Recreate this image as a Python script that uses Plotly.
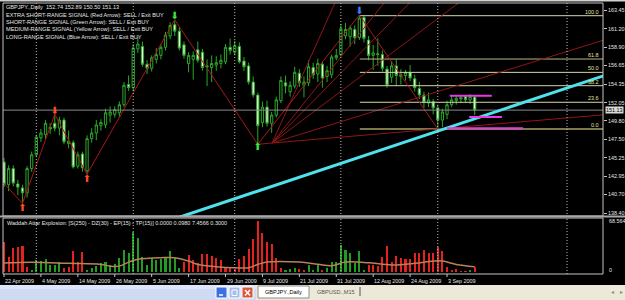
import plotly.graph_objects as go

W, H = 625, 300


def pxx(p):
    return p / W


def pxy(p):
    return 1 - p / H


# ---------------- data ----------------
date_labels = ["22 Apr 2009", "4 May 2009", "14 May 2009", "26 May 2009", "5 Jun 2009",
               "17 Jun 2009", "29 Jun 2009", "9 Jul 2009", "21 Jul 2009", "31 Jul 2009",
               "12 Aug 2009", "24 Aug 2009", "3 Sep 2009"]
date_idx = [0, 8, 16, 24, 32, 40, 48, 56, 64, 72, 80, 88, 96]
separator_idx = [7, 28, 50, 73, 94, 122]

opens = [144.7, 141.9, 143.9, 142.0, 141.5, 140.9, 143.9, 145.6, 147.7, 148.1,
         149.0, 149.5, 148.9, 149.9, 147.0, 147.1, 144.2, 145.7, 143.6, 147.6,
         148.3, 149.2, 149.3, 150.5, 150.6, 150.8, 151.8, 154.3, 153.9, 158.7,
         159.0, 156.8, 156.3, 157.4, 157.9, 158.9, 160.3, 161.7, 160.9, 159.2,
         156.9, 157.4, 158.6, 158.3, 156.6, 156.4, 156.7, 156.9, 157.1, 158.9,
         158.3, 159.0, 157.2, 156.6, 154.6, 153.0, 149.6, 151.5, 149.5, 150.5,
         152.3, 154.5, 153.4, 154.1, 155.7, 154.2, 154.5, 156.4, 155.6, 156.8,
         155.3, 155.5, 157.6, 158.0, 160.3, 160.2, 161.1, 160.1, 162.6, 159.8,
         157.9, 158.1, 158.0, 156.2, 155.2, 156.6, 155.3, 155.4, 155.8, 155.0,
         153.8, 153.0, 152.0, 152.2, 151.4, 149.9, 150.6, 151.8, 152.3, 152.5,
         152.8, 152.4, 152.74]
highs = [145.2, 144.3, 144.3, 142.5, 141.9, 144.2, 146.0, 148.1, 148.8, 149.9,
         149.5, 150.6, 150.3, 150.2, 148.6, 147.4, 146.0, 146.0, 148.0, 148.9,
         149.9, 150.0, 151.3, 151.6, 151.6, 152.2, 154.6, 155.4, 159.3, 160.2,
         159.6, 157.3, 157.9, 158.8, 159.3, 160.8, 162.0, 162.3, 161.4, 159.6,
         158.3, 158.4, 159.6, 158.7, 157.4, 157.9, 157.8, 158.0, 159.3, 160.0,
         159.7, 159.5, 157.7, 157.0, 155.3, 153.3, 152.2, 152.3, 150.9, 152.8,
         155.3, 155.4, 154.7, 156.5, 156.2, 155.3, 157.3, 157.0, 157.5, 157.1,
         156.6, 158.0, 158.7, 161.8, 161.9, 161.6, 161.6, 162.9, 162.8, 160.3,
         159.2, 160.0, 158.5, 156.6, 157.2, 157.4, 156.2, 156.1, 156.7, 155.5,
         154.6, 153.4, 153.3, 152.5, 151.8, 151.3, 152.3, 153.0, 152.9, 153.0,
         153.0, 153.1, 152.89]
lows = [141.6, 141.1, 141.7, 140.6, 139.6, 140.3, 143.5, 145.3, 147.2, 147.6,
        148.2, 148.5, 148.0, 146.9, 146.4, 143.9, 143.9, 143.5, 143.2, 147.1,
        147.4, 148.6, 148.9, 149.6, 150.2, 150.3, 151.5, 153.5, 153.5, 158.2,
        156.5, 155.6, 155.9, 156.9, 157.4, 158.5, 159.9, 160.3, 158.5, 157.5,
        155.8, 154.9, 157.0, 156.0, 154.1, 154.6, 156.0, 156.3, 156.8, 158.0,
        157.9, 156.9, 156.0, 154.3, 152.7, 146.9, 149.0, 149.1, 148.3, 150.2,
        152.0, 153.2, 152.8, 153.8, 154.0, 152.7, 154.1, 155.0, 154.6, 153.9,
        154.6, 155.1, 157.3, 157.8, 159.9, 159.0, 159.3, 159.8, 159.5, 157.3,
        156.1, 156.6, 155.9, 153.9, 154.5, 154.1, 154.3, 154.8, 154.7, 153.4,
        152.5, 151.4, 151.5, 150.6, 148.8, 149.0, 150.0, 151.5, 151.8, 152.0,
        152.0, 151.9, 150.50]
closes = [141.9, 143.9, 142.1, 141.6, 140.9, 143.9, 145.6, 147.8, 148.3, 149.5,
          148.8, 148.9, 149.9, 147.2, 147.3, 144.1, 145.6, 144.0, 147.6, 148.3,
          149.3, 149.6, 150.8, 150.9, 151.2, 151.8, 154.2, 153.9, 158.8, 159.3,
          156.8, 156.3, 157.6, 158.0, 158.9, 160.4, 161.6, 160.9, 158.8, 157.9,
          157.9, 157.9, 157.3, 156.4, 156.5, 156.9, 157.0, 157.3, 158.9, 158.5,
          159.1, 157.1, 156.5, 154.6, 153.0, 149.2, 151.5, 149.5, 150.5, 152.4,
          154.8, 154.1, 154.2, 155.8, 154.5, 154.6, 156.5, 155.5, 156.9, 155.1,
          156.0, 157.7, 157.9, 161.2, 161.1, 161.3, 160.1, 162.5, 160.0, 157.9,
          158.2, 158.0, 156.3, 154.2, 156.6, 155.4, 155.5, 155.8, 155.1, 153.9,
          153.0, 152.1, 152.4, 151.4, 149.9, 150.9, 151.8, 152.4, 152.6, 152.7,
          152.4, 152.8, 151.13]

# Waddah Attar Explosion histogram (value, trend colour: 1 = up/green, -1 = down/red)
wae_vals = [40, 20, 32, 34, 35, 7, 3, 16, 15, 17,
            9, 9, 14, 5, 7, 28, 14, 27, 3, 5,
            8, 12, 13, 9, 11, 19, 30, 25, 54, 46,
            20, 9, 19, 16, 17, 20, 28, 19, 5, 13,
            23, 16, 12, 24, 24, 22, 19, 16, 7, 7,
            4, 17, 22, 31, 45, 68.564, 53, 41, 38, 19,
            6, 3, 4, 6, 4, 2, 10, 3, 10, 2,
            6, 14, 14, 36, 30, 25, 12, 28, 3, 10,
            10, 8, 20, 35, 13, 21, 19, 17, 17, 25,
            26, 30, 26, 26, 33, 28, 7, 3, 4, 1,
            1, 2, 7]
wae_dir = [-1, -1, -1, -1, -1, -1, 1, 1, 1, 1,
           1, 1, 1, -1, -1, -1, -1, -1, 1, 1,
           1, 1, 1, 1, 1, 1, 1, 1, 1, 1,
           1, 1, 1, 1, 1, 1, 1, 1, 1, -1,
           -1, -1, -1, -1, -1, -1, -1, -1, -1, -1,
           -1, -1, -1, -1, -1, -1, -1, -1, -1, -1,
           -1, 1, 1, 1, -1, -1, 1, 1, 1, -1,
           1, 1, 1, 1, 1, 1, 1, 1, 1, -1,
           -1, -1, -1, -1, -1, -1, -1, -1, -1, -1,
           -1, -1, -1, -1, -1, -1, -1, -1, -1, -1,
           -1, 1, -1]
expl_idx = [0, 6, 14, 21, 23, 25, 27, 29, 34, 37, 40, 42, 46, 50, 53, 55, 57, 64,
            68, 71, 74, 79, 84, 89, 93, 95, 98, 102]
expl_vals = [12.0, 13.0, 11.6, 10.2, 7.9, 7.9, 13.3, 17.0, 19.2, 19.2, 14.7, 10.2, 7.1,
             5.7, 5.7, 10.2, 13.3, 13.3, 10.5, 8.5, 13.3, 12.5, 9.5, 11.6, 14.7, 14.7,
             10.2, 7.1]

price_ticks = [163.45, 161.20, 158.90, 156.65, 154.35, 152.05, 149.80, 147.50,
               145.25, 142.95, 140.70, 138.40]
bid = 151.13

# zig-zag pivots
zz_idx = [-3, 4, 11, 18, 37, 55, 77, 94]
zz_price = [143.9, 139.6, 150.6, 143.2, 162.3, 146.9, 162.9, 148.8]

# signal arrows
sig_idx = [4, 11, 18, 37, 55, 77]
sig_price = [138.9, 150.9, 142.6, 162.65, 146.45, 163.27]
sig_up = [True, False, True, False, True, False]
sig_color = ["#ff4a24", "#ff4a24", "#ff4a24", "#3ee43e", "#3ee43e", "#3b7cff"]

# fibonacci retracement
fib_start = 77.1
fib_levels = ["100.0", "61.8", "50.0", "38.2", "23.6", "0.0"]
fib_prices = [162.81, 157.45, 155.80, 154.15, 152.10, 148.79]

# fan lines from one anchor
fan_origin = (58.1, 147.06)
fan_end_idx = 130
fan_end_price = [238.6, 198.4, 188.9, 177.9, 159.8, 150.55]
fan_link = ([55, 58.1], [146.9, 147.06])

# cyan trend line
trend_idx = [36, 130]
trend_price = [137.5, 155.39]

# magenta levels
mag_x0 = [96.6, 100.8, 96.0]
mag_x1 = [105.7, 107.9, 112.5]
mag_y = [152.9, 150.28, 148.88]

# ---------------- axes geometry ----------------
X_LO, X_HI = -0.217, 129.8
Y_LO, Y_HI = 138.03, 164.38
I_LO, I_HI = -2.69, 72.6
FONT = "Liberation Sans, Arial, sans-serif"
TXT = "#e6e6e6"

fig = go.Figure()
xs = list(range(len(opens)))

# fib lines
fib_cols = ["#d6d6ac", "#b9b77c", "#d6d6ac", "#d6d6ac", "#d6d6ac", "#7c7a4c"]
fib_w = [1, 1, 1, 1, 1, 2]
for p, c, w in zip(fib_prices, fib_cols, fib_w):
    fig.add_trace(go.Scatter(x=[fib_start, X_HI + 5], y=[p, p], mode="lines",
                             line=dict(color=c, width=w), xaxis="x", yaxis="y",
                             hoverinfo="skip"))

# fan lines
for ep in fan_end_price:
    fig.add_trace(go.Scatter(x=[fan_origin[0], fan_end_idx], y=[fan_origin[1], ep],
                             mode="lines", line=dict(color="#8e1616", width=1),
                             xaxis="x", yaxis="y", hoverinfo="skip"))
fig.add_trace(go.Scatter(x=fan_link[0], y=fan_link[1], mode="lines",
                         line=dict(color="#8e1616", width=1), xaxis="x", yaxis="y"))

# zig-zag
fig.add_trace(go.Scatter(x=zz_idx, y=zz_price, mode="lines",
                         line=dict(color="#a81818", width=1), xaxis="x", yaxis="y"))

# bid line
fig.add_trace(go.Scatter(x=[X_LO, X_HI], y=[bid, bid], mode="lines",
                         line=dict(color="#8c8c8c", width=1), xaxis="x", yaxis="y"))

# cyan trend line
fig.add_trace(go.Scatter(x=trend_idx, y=trend_price, mode="lines",
                         line=dict(color="#4fe2ee", width=3), xaxis="x", yaxis="y"))

# magenta lines
for a, b, v in zip(mag_x0, mag_x1, mag_y):
    fig.add_trace(go.Scatter(x=[a, b], y=[v, v], mode="lines",
                             line=dict(color="#e23ee2", width=2), xaxis="x", yaxis="y"))

# candles
fig.add_trace(go.Candlestick(
    x=xs, open=opens, high=highs, low=lows, close=closes,
    increasing=dict(line=dict(color="#2aa82a", width=1), fillcolor="black"),
    decreasing=dict(line=dict(color="#2aa82a", width=1), fillcolor="#eef6da"),
    whiskerwidth=0, xaxis="x", yaxis="y", hoverinfo="skip"))

# signal arrows
fig.add_trace(go.Scatter(
    x=sig_idx, y=sig_price, mode="text",
    text=["\u2b06" if u else "\u2b07" for u in sig_up],
    textfont=dict(color=sig_color, size=10, family="DejaVu Sans"),
    xaxis="x", yaxis="y"))

# indicator histogram
fig.add_trace(go.Bar(
    x=xs, y=wae_vals, width=0.45,
    marker=dict(color=["#1f9e1f" if d > 0 else "#e5221e" for d in wae_dir], line=dict(width=0)),
    xaxis="x2", yaxis="y2"))
fig.add_trace(go.Scatter(x=expl_idx, y=expl_vals, mode="lines", line_shape="spline",
                         line=dict(color="#b98257", width=1.5), xaxis="x2", yaxis="y2"))

# ---------------- shapes ----------------
shapes = []
# period separators
for s in separator_idx:
    shapes.append(dict(type="line", xref="x", yref="paper", x0=s, x1=s,
                       y0=pxy(274), y1=pxy(3), line=dict(color="#bdbdbd", width=1, dash="1px,2px")))
# frames
frame = "#c4c4c4"
shapes.append(dict(type="rect", xref="paper", yref="paper", x0=pxx(3), x1=pxx(603),
                   y0=pxy(216), y1=pxy(3), line=dict(color=frame, width=1)))
shapes.append(dict(type="rect", xref="paper", yref="paper", x0=pxx(3), x1=pxx(603),
                   y0=pxy(274), y1=pxy(218), line=dict(color=frame, width=1)))
shapes.append(dict(type="line", xref="paper", yref="paper", x0=0, x1=1,
                   y0=pxy(216.5), y1=pxy(216.5), line=dict(color="#a8a8a8", width=2)))
shapes.append(dict(type="rect", xref="paper", yref="paper", x0=0, x1=1,
                   y0=pxy(1.5), y1=1, fillcolor="#d2d2d2", line=dict(width=0)))
# date ticks
for d in date_idx:
    shapes.append(dict(type="line", xref="x2", yref="paper", x0=d, x1=d,
                       y0=pxy(277), y1=pxy(274), line=dict(color=frame, width=1)))
# bottom bar
shapes.append(dict(type="rect", xref="paper", yref="paper", x0=0, x1=pxx(256),
                   y0=0, y1=pxy(285), fillcolor="#cedbf2", line=dict(width=0)))
shapes.append(dict(type="rect", xref="paper", yref="paper", x0=0, x1=pxx(256),
                   y0=pxy(289), y1=pxy(285), fillcolor="#dbe6f8", line=dict(width=0)))
shapes.append(dict(type="rect", xref="paper", yref="paper", x0=pxx(256), x1=1,
                   y0=0, y1=pxy(285), fillcolor="#ece9d8", line=dict(width=0)))
# window buttons
btns = [(216, 227, "#3c6fe0"), (229, 240, "#a7bce8"), (242, 253, "#d9573b")]
for x0, x1, c in btns:
    shapes.append(dict(type="rect", xref="paper", yref="paper", x0=pxx(x0), x1=pxx(x1),
                       y0=pxy(298), y1=pxy(287), fillcolor=c, line=dict(color="white", width=1)))
shapes.append(dict(type="line", xref="paper", yref="paper", x0=pxx(219), x1=pxx(223),
                   y0=pxy(295), y1=pxy(295), line=dict(color="white", width=1.5)))
shapes.append(dict(type="rect", xref="paper", yref="paper", x0=pxx(232), x1=pxx(237),
                   y0=pxy(295.5), y1=pxy(290), line=dict(color="white", width=1)))
shapes.append(dict(type="line", xref="paper", yref="paper", x0=pxx(245), x1=pxx(250),
                   y0=pxy(295.5), y1=pxy(290), line=dict(color="white", width=1.5)))
shapes.append(dict(type="line", xref="paper", yref="paper", x0=pxx(245), x1=pxx(250),
                   y0=pxy(290), y1=pxy(295.5), line=dict(color="white", width=1.5)))
# tab
shapes.append(dict(type="rect", xref="paper", yref="paper", x0=pxx(258), x1=pxx(309),
                   y0=pxy(298), y1=pxy(286), fillcolor="white", line=dict(color="#8c8c8c", width=1)))
shapes.append(dict(type="line", xref="paper", yref="paper", x0=pxx(360), x1=pxx(360),
                   y0=pxy(296), y1=pxy(287), line=dict(color="#555555", width=1)))

# ---------------- annotations ----------------
ann = []
header = ["GBPJPY.,Daily  152.74 152.89 150.50 151.13",
          "EXTRA SHORT-RANGE SIGNAL (Red Arrow): SELL / Exit BUY",
          "SHORT-RANGE SIGNAL (Green Arrow): SELL / Exit BUY",
          "MEDIUM-RANGE SIGNAL (Yellow Arrow): SELL / Exit BUY",
          "LONG-RANGE SIGNAL (Blue Arrow): SELL / Exit BUY"]
for k, t in enumerate(header):
    ann.append(dict(text=t, xref="paper", yref="paper", x=pxx(4), y=pxy(7.3 + 7.3 * k),
                    xanchor="left", yanchor="middle", showarrow=False,
                    font=dict(size=5.6, color=TXT, family=FONT)))
for lab, p in zip(fib_levels, fib_prices):
    ann.append(dict(text=lab, xref="paper", yref="y", x=pxx(601), y=p, yshift=4,
                    xanchor="right", yanchor="middle", showarrow=False,
                    font=dict(size=5.4, color="#e4e49c", family=FONT)))
ann.append(dict(text="151.13", xref="paper", yref="y", x=pxx(605), y=bid,
                xanchor="left", yanchor="middle", showarrow=False, bgcolor="#d9d9d9",
                borderpad=0, font=dict(size=5.4, color="black", family=FONT)))
ann.append(dict(text="Waddah Attar Explosion: [S(250) - DZ(30) - EP(15) - TP(15)] 0.0000 0.0980 7.4566 0.3000",
                xref="paper", yref="paper", x=pxx(5), y=pxy(222.5), xanchor="left",
                yanchor="middle", showarrow=False, font=dict(size=5.5, color=TXT, family=FONT)))
ann.append(dict(text="68.564", xref="paper", yref="paper", x=pxx(607), y=pxy(221),
                xanchor="left", yanchor="middle", showarrow=False,
                font=dict(size=5.4, color=TXT, family=FONT)))
ann.append(dict(text="0", xref="paper", yref="paper", x=pxx(607), y=pxy(270),
                xanchor="left", yanchor="middle", showarrow=False,
                font=dict(size=5.4, color=TXT, family=FONT)))
for d, t in zip(date_idx, date_labels):
    ann.append(dict(text=t, xref="x2", yref="paper", x=d, y=pxy(280.5), xshift=-1,
                    xanchor="left", yanchor="middle", showarrow=False,
                    font=dict(size=5.4, color=TXT, family=FONT)))
ann.append(dict(text="GBPJPY.,Daily", xref="paper", yref="paper", x=pxx(283.5), y=pxy(291.5),
                xanchor="center", yanchor="middle", showarrow=False,
                font=dict(size=5.6, color="black", family=FONT)))
ann.append(dict(text="GBPUSD.,M15", xref="paper", yref="paper", x=pxx(315), y=pxy(291.5),
                xanchor="left", yanchor="middle", showarrow=False,
                font=dict(size=5.6, color="#555555", family=FONT)))
ann.append(dict(text="\u25c2", xref="paper", yref="paper", x=pxx(612), y=pxy(291.5),
                xanchor="center", yanchor="middle", showarrow=False,
                font=dict(size=6, color="#8a8a8a", family="DejaVu Sans")))
ann.append(dict(text="\u25b8", xref="paper", yref="paper", x=pxx(621), y=pxy(291.5),
                xanchor="center", yanchor="middle", showarrow=False,
                font=dict(size=6, color="#8a8a8a", family="DejaVu Sans")))

fig.update_layout(
    width=W, height=H, margin=dict(l=0, r=0, t=0, b=0),
    paper_bgcolor="black", plot_bgcolor="black", showlegend=False,
    hovermode=False, bargap=0,
    xaxis=dict(domain=[pxx(3), pxx(603)], range=[X_LO, X_HI], showticklabels=False,
               showgrid=False, zeroline=False, ticks="", rangeslider=dict(visible=False),
               anchor="y"),
    yaxis=dict(domain=[pxy(216), pxy(3)], range=[Y_LO, Y_HI], side="right", anchor="x",
               tickvals=price_ticks, ticktext=[f"{v:.2f}" for v in price_ticks],
               ticks="outside", ticklen=3, tickcolor="#c4c4c4", showgrid=False, zeroline=False,
               tickfont=dict(size=5.4, color=TXT, family=FONT)),
    xaxis2=dict(domain=[pxx(3), pxx(603)], range=[X_LO, X_HI], showticklabels=False,
                showgrid=False, zeroline=False, ticks="", anchor="y2"),
    yaxis2=dict(domain=[pxy(274), pxy(218)], range=[I_LO, I_HI], side="right", anchor="x2",
                showticklabels=False, ticks="", showgrid=False, zeroline=False),
    shapes=shapes, annotations=ann,
)

fig.write_html("out.html")
